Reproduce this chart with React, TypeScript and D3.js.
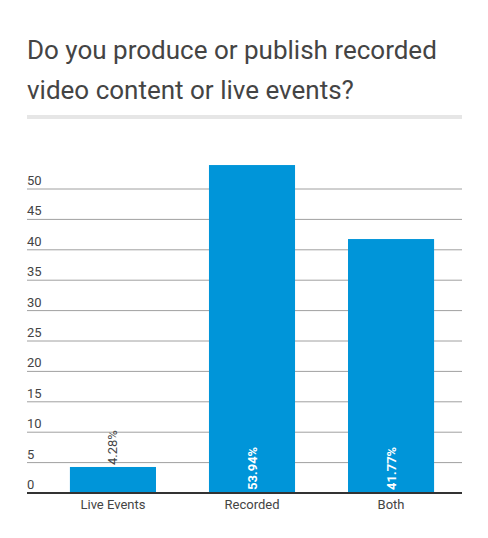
import React from "react";
import * as d3 from "d3";

const categories = ["Live Events", "Recorded", "Both"];
const values = [4.28, 53.94, 41.77];
const yTicks = [0, 5, 10, 15, 20, 25, 30, 35, 40, 45, 50];

const width = 488;
const height = 538;
const BAR_COLOR = "#0095d9";
const FONT = "Roboto, 'Noto Sans', sans-serif";

export default function App() {
  const left = 27;
  const right = 462;
  const baseline = 493;

  const y = d3.scaleLinear().domain([0, 50]).range([baseline, 189]);
  const x = d3
    .scaleBand()
    .domain(categories)
    .range([43.5, 460.5])
    .paddingInner(0.381)
    .paddingOuter(0.19);

  return (
    <svg
      width={width}
      height={height}
      style={{ position: "absolute", left: 0, top: 0, fontFamily: FONT }}
    >
      <rect width={width} height={height} fill="#fff" />
      <text x={left} y={59} fontSize={26} fill="#444">
        Do you produce or publish recorded
      </text>
      <text x={left} y={99} fontSize={26} fill="#444">
        video content or live events?
      </text>
      <rect x={left} y={115} width={right - left} height={4} fill="#e6e6e6" />

      {yTicks.map((t) => (
        <g key={t}>
          {t > 0 && (
            <line
              x1={left}
              x2={right}
              y1={y(t)}
              y2={y(t)}
              stroke="#a0a0a0"
              strokeWidth={1}
            />
          )}
          <text x={left} y={y(t) - 4} fontSize={13} fill="#444">
            {t}
          </text>
        </g>
      ))}

      {categories.map((c, i) => {
        const bx = x(c) ?? 0;
        const cx = bx + x.bandwidth() / 2;
        const top = y(values[i]);
        const inside = baseline - top > 60;
        const label = `${values[i].toFixed(2)}%`;
        return (
          <g key={c}>
            <rect
              x={bx}
              y={top}
              width={x.bandwidth()}
              height={baseline - top}
              fill={BAR_COLOR}
            />
            {inside ? (
              <text
                transform={`translate(${cx + 4.5},${baseline - 3}) rotate(-90)`}
                fontSize={13}
                fontWeight="bold"
                fill="#fff"
              >
                {label}
              </text>
            ) : (
              <text
                transform={`translate(${cx + 4.5},${top - 2}) rotate(-90)`}
                fontSize={13}
                fill="#444"
              >
                {label}
              </text>
            )}
            <text
              x={cx}
              y={509}
              fontSize={13}
              textAnchor="middle"
              fill="#444"
            >
              {c}
            </text>
          </g>
        );
      })}

      <line
        x1={left}
        x2={right}
        y1={baseline}
        y2={baseline}
        stroke="#333"
        strokeWidth={2}
      />
    </svg>
  );
}
